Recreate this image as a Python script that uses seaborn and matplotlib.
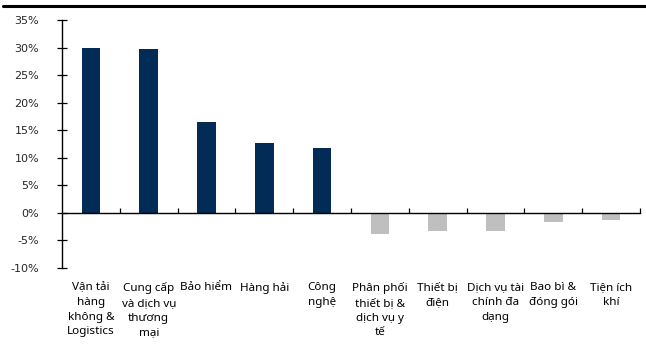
import matplotlib
matplotlib.use("Agg")
import matplotlib.pyplot as plt
from matplotlib.lines import Line2D
from matplotlib.ticker import FixedLocator, PercentFormatter
import seaborn as sns
import pandas as pd

# Sector returns (fraction)
sectors = [
    "Vận tải\nhàng\nkhông &\nLogistics",
    "Cung cấp\nvà dịch vụ\nthương\nmại",
    "Bảo hiểm",
    "Hàng hải",
    "Công\nnghệ",
    "Phân phối\nthiết bị &\ndịch vụ y\ntế",
    "Thiết bị\nđiện",
    "Dịch vụ tài\nchính đa\ndạng",
    "Bao bì &\nđóng gói",
    "Tiện ích\nkhí",
]
returns = [0.299, 0.298, 0.165, 0.126, 0.118, -0.039, -0.032, -0.032, -0.017, -0.013]
y_ticks = [-0.10, -0.05, 0.0, 0.05, 0.10, 0.15, 0.20, 0.25, 0.30, 0.35]

sns.set_theme(style="white")
plt.rcParams["font.family"] = ["Noto Sans", "DejaVu Sans"]
plt.rcParams["axes.unicode_minus"] = False

df = pd.DataFrame({"sector": sectors, "ret": returns})
df["sign"] = ["pos" if v >= 0 else "neg" for v in returns]

fig = plt.figure(figsize=(6.46, 3.54), dpi=100)
ax = fig.add_axes([62 / 646, 86 / 354, 578 / 646, 248 / 354])

sns.barplot(
    data=df, x="sector", y="ret", hue="sign",
    palette={"pos": "#022B55", "neg": "#BFBFBF"},
    dodge=False, legend=False, width=0.32, ax=ax, saturation=1,
    linewidth=0,
)

ax.set_xlim(-0.5, len(sectors) - 0.5)
ax.set_ylim(-0.10, 0.35)
ax.set_xlabel("")
ax.set_ylabel("")

# y axis
ax.yaxis.set_major_locator(FixedLocator(y_ticks))
ax.yaxis.set_major_formatter(PercentFormatter(1.0, decimals=0))
ax.tick_params(axis="y", direction="inout", length=7, width=0.9, color="black",
               pad=13, labelsize=8, left=True)
for lbl in ax.get_yticklabels():
    lbl.set_fontfamily("DejaVu Sans")

# x axis sits on the zero line; category labels hang below the plot
for side in ("top", "right"):
    ax.spines[side].set_visible(False)
for side in ("left", "bottom"):
    ax.spines[side].set_color("black")
    ax.spines[side].set_linewidth(1.0)
ax.spines["bottom"].set_position(("data", 0))

ax.set_xticks(range(len(sectors)))
ax.set_xticklabels(sectors, fontsize=8.4, linespacing=1.45, va="top")
ax.tick_params(axis="x", which="major", length=0, pad=50, labelcolor="black")
ax.xaxis.set_minor_locator(FixedLocator([i + 0.5 for i in range(len(sectors))]))
ax.tick_params(axis="x", which="minor", direction="in", length=3.5, width=0.9,
               color="black", bottom=True)
ax.grid(False)

# rule across the top of the figure
fig.add_artist(Line2D([3 / 646, 1], [1 - 6 / 354, 1 - 6 / 354],
                      color="black", linewidth=2.2, transform=fig.transFigure))

fig.savefig("out.png", dpi=100)
